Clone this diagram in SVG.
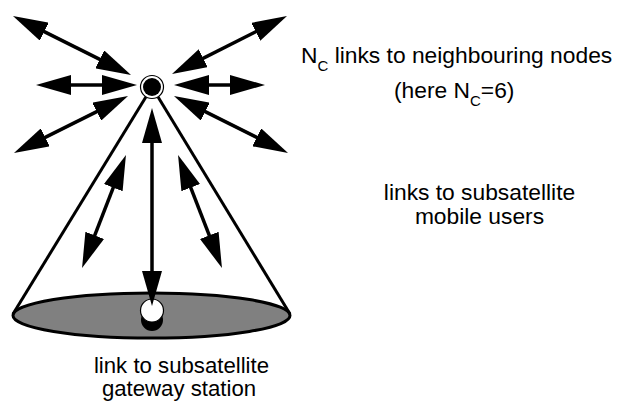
<svg xmlns="http://www.w3.org/2000/svg" width="617" height="403" viewBox="0 0 617 403">
  <defs>
    <marker id="head" viewBox="0 0 35 20" markerUnits="userSpaceOnUse" markerWidth="35" markerHeight="20" refX="23" refY="10" orient="auto-start-reverse">
      <path d="M0,0 L35,10 L0,20 z" fill="#000"/>
    </marker>
    <style>
      .link { stroke: #000; stroke-width: 3.5; fill: none; marker-start: url(#head); marker-end: url(#head); }
      .cone { stroke: #000; stroke-width: 3; fill: none; }
      .lbl { font-family: "Liberation Sans", Arial, Helvetica, sans-serif; font-size: 22.8px; fill: #000; }
      .small { font-size: 22.2px; }
      .sub { font-size: 15px; }
    </style>
  </defs>
  <rect width="617" height="403" fill="#fff"/>

  <!-- coverage footprint on the ground -->
  <g id="footprint">
    <ellipse cx="151.5" cy="315.5" rx="138.5" ry="22.5" fill="#808080" stroke="#000" stroke-width="3"/>
  </g>

  <!-- beam cone edges -->
  <g id="cone">
    <line class="cone" x1="152" y1="87" x2="13" y2="314"/>
    <line class="cone" x1="152" y1="87" x2="290" y2="314"/>
  </g>

  <!-- gateway station -->
  <g id="gateway">
    <circle cx="152" cy="320" r="11" fill="#000"/>
    <circle cx="152" cy="310.5" r="11.5" fill="#fff" stroke="#000" stroke-width="1.2"/>
  </g>

  <!-- bidirectional links -->
  <g id="links">
    <line class="link" x1="23.7" y1="21.4" x2="120.3" y2="69.6"/>
    <line class="link" x1="48" y1="85" x2="125" y2="85"/>
    <line class="link" x1="24.7" y1="147.6" x2="117.3" y2="101.4"/>
    <line class="link" x1="276.3" y1="21.4" x2="182.7" y2="68.6"/>
    <line class="link" x1="253" y1="85" x2="186" y2="85"/>
    <line class="link" x1="277.3" y1="147.6" x2="184.7" y2="101.4"/>
    <line class="link" x1="152" y1="120" x2="152" y2="294"/>
    <line class="link" x1="121.6" y1="166.2" x2="86.4" y2="256.8"/>
    <line class="link" x1="182.4" y1="166.2" x2="217.6" y2="256.8"/>
  </g>

  <!-- satellite node -->
  <g id="satellite">
    <circle cx="152" cy="87" r="11.5" fill="#fff" stroke="#000" stroke-width="1.2"/>
    <circle cx="152" cy="87" r="9" fill="#000"/>
  </g>

  <!-- labels -->
  <g id="labels">
    <text class="lbl" x="301" y="63">N<tspan class="sub" dy="8">C</tspan><tspan dy="-8"> links to neighbouring nodes</tspan></text>
    <text class="lbl" x="394" y="98">(here N<tspan class="sub" dy="8">C</tspan><tspan dy="-8">=6)</tspan></text>
    <text class="lbl" x="479.5" y="200" text-anchor="middle">links to subsatellite</text>
    <text class="lbl" x="479.5" y="224" text-anchor="middle">mobile users</text>
    <text class="lbl small" x="181.5" y="372.5" text-anchor="middle">link to subsatellite</text>
    <text class="lbl small" x="179" y="395.5" text-anchor="middle">gateway station</text>
  </g>
</svg>
